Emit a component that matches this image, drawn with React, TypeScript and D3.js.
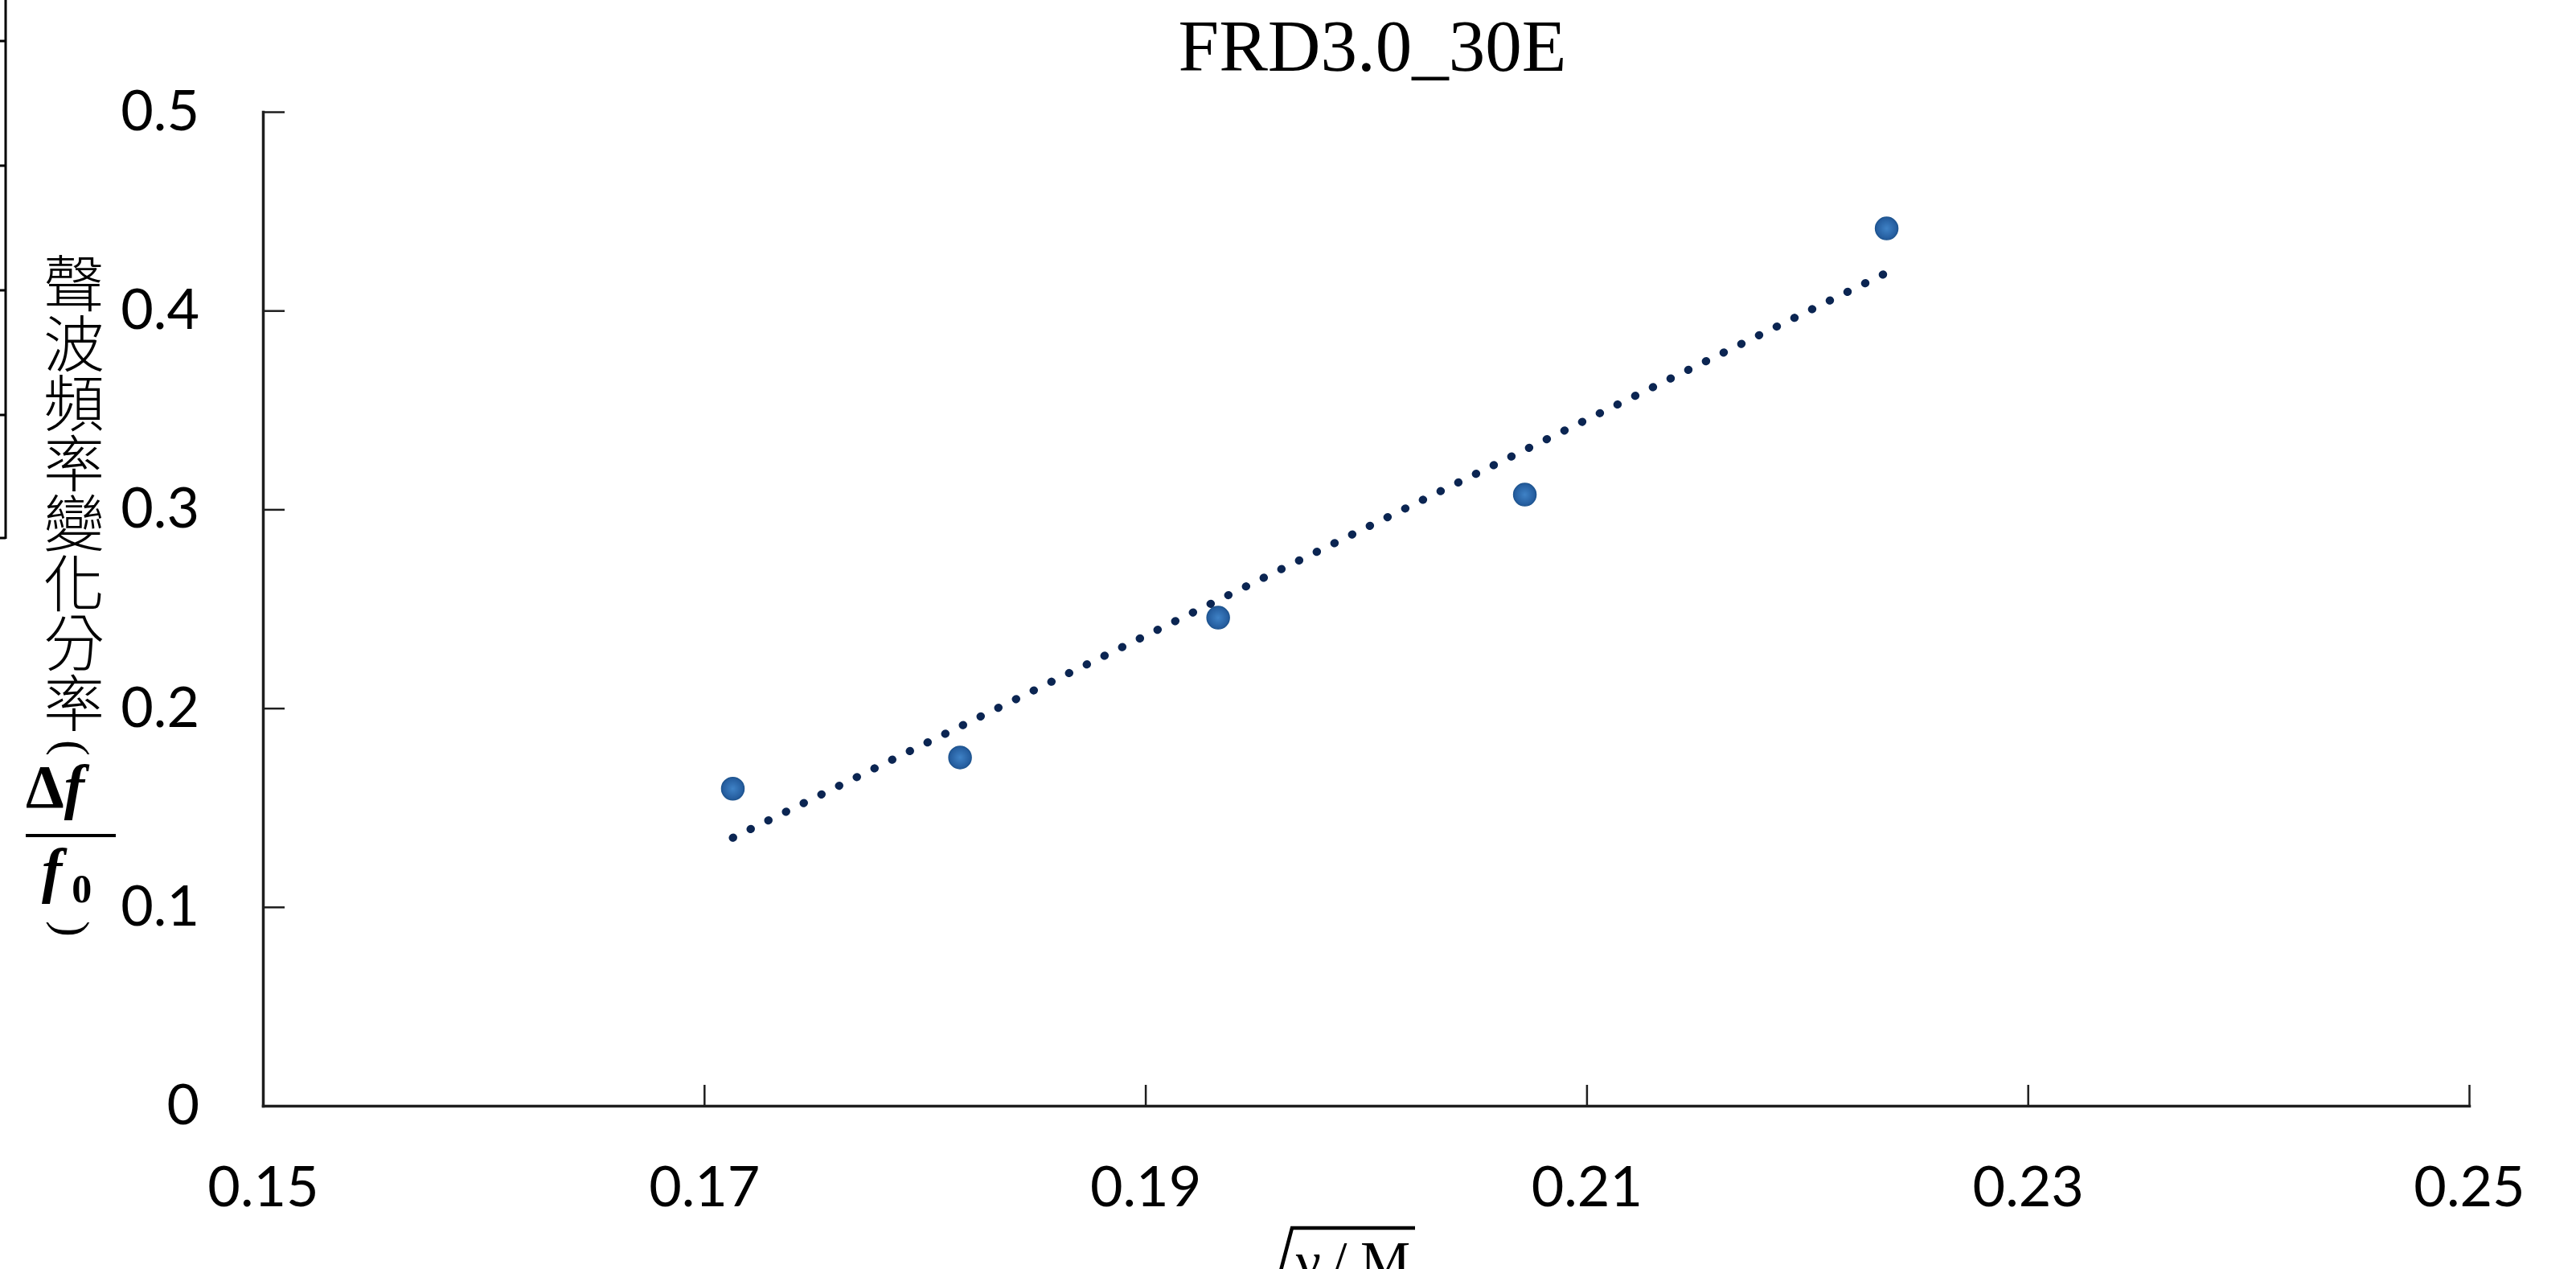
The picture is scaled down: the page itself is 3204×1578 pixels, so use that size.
import React, { useEffect, useRef } from 'react';
import * as d3 from 'd3';

// measured points (sqrt(γ/M), Δf/f0)
const xValues = [0.1713, 0.1816, 0.1933, 0.2072, 0.2236];
const yValues = [0.1595, 0.1752, 0.2455, 0.3074, 0.4413];

const xTicks = [0.15, 0.17, 0.19, 0.21, 0.23, 0.25];
const yTicks = [0, 0.1, 0.2, 0.3, 0.4, 0.5];

const chartTitle = 'FRD3.0_30E';
const yLabelChars = ['聲', '波', '頻', '率', '變', '化', '分', '率'];
const xLabelParts = ['γ', '/', 'M'];

const width = 3204;
const height = 1578;
const margin = { top: 139, right: 133, bottom: 203, left: 327 };

const tickFont = 'Lato, "Open Sans", sans-serif';
const serifFont = '"Liberation Serif", "Times New Roman", serif';
const cjkFont = '"Noto Sans CJK TC", "Noto Sans CJK SC", sans-serif';

export default function App() {
  const svgRef = useRef<SVGSVGElement>(null);

  useEffect(() => {
    const svg = d3.select(svgRef.current);
    svg.selectAll('*').remove();

    const x = d3.scaleLinear().domain([0.15, 0.25]).range([margin.left, width - margin.right]);
    const y = d3.scaleLinear().domain([0, 0.5]).range([height - margin.bottom, margin.top]);

    // marker shading like the Excel default
    const grad = svg.append('defs').append('radialGradient').attr('id', 'dotFill');
    grad.append('stop').attr('offset', '0%').attr('stop-color', '#3f82c6');
    grad.append('stop').attr('offset', '100%').attr('stop-color', '#22599a');

    // leftover table border on the left edge of the original screenshot
    const border = svg.append('g').attr('stroke', '#000').attr('stroke-width', 3);
    border.append('line').attr('x1', 7).attr('x2', 7).attr('y1', 0).attr('y2', 670);
    [51, 206, 361, 516, 669].forEach(r => {
      border.append('line').attr('x1', 0).attr('x2', 7).attr('y1', r).attr('y2', r);
    });

    // title
    svg.append('text')
      .attr('x', 1707)
      .attr('y', 88)
      .attr('text-anchor', 'middle')
      .attr('font-family', serifFont)
      .attr('font-size', 91)
      .attr('fill', '#000')
      .text(chartTitle);

    // axes
    const gx = svg.append('g')
      .attr('transform', `translate(0,${y(0)})`)
      .call(d3.axisBottom(x).tickValues(xTicks).tickSize(-26).tickSizeOuter(0).tickPadding(75)
        .tickFormat(d => `${d}`));
    const gy = svg.append('g')
      .attr('transform', `translate(${x(0.15)},0)`)
      .call(d3.axisLeft(y).tickValues(yTicks).tickSize(-27).tickSizeOuter(0).tickPadding(79)
        .tickFormat(d => `${d}`));

    [gx, gy].forEach(g => {
      g.select('.domain').attr('stroke', '#1e1e1e').attr('stroke-width', 3.5).attr('stroke-linecap', 'square');
      g.selectAll('.tick line').attr('stroke', '#1e1e1e').attr('stroke-width', 2.5);
      g.selectAll('.tick text')
        .attr('font-family', tickFont)
        .attr('font-size', 70)
        .attr('fill', '#000');
    });

    // points
    svg.append('g')
      .selectAll('circle')
      .data(xValues)
      .enter()
      .append('circle')
      .attr('cx', d => x(d))
      .attr('cy', (d, i) => y(yValues[i]))
      .attr('r', 14)
      .attr('fill', 'url(#dotFill)')
      .attr('stroke', '#1f5590')
      .attr('stroke-width', 1.5);

    // linear trendline (least squares)
    const mx = d3.mean(xValues)!;
    const my = d3.mean(yValues)!;
    const slope = d3.sum(xValues.map((v, i) => (v - mx) * (yValues[i] - my))) /
      d3.sum(xValues.map(v => (v - mx) ** 2));
    const intercept = my - slope * mx;
    const [x0, x1] = d3.extent(xValues) as [number, number];
    const line = d3.line<[number, number]>().x(d => x(d[0])).y(d => y(d[1]));
    svg.append('path')
      .attr('d', line([[x0, slope * x0 + intercept], [x1, slope * x1 + intercept]]))
      .attr('fill', 'none')
      .attr('stroke', '#0b2552')
      .attr('stroke-width', 10)
      .attr('stroke-linecap', 'round')
      .attr('stroke-dasharray', '0.5 24');

    // y axis label: vertical characters then (Δf / f0)
    const yl = svg.append('g').attr('fill', '#000');
    yl.selectAll('text.ch')
      .data(yLabelChars)
      .enter()
      .append('text')
      .attr('class', 'ch')
      .attr('x', 92)
      .attr('y', (d, i) => 348 + i * 74.5)
      .attr('text-anchor', 'middle')
      .attr('dominant-baseline', 'central')
      .attr('font-family', cjkFont)
      .attr('font-weight', 300)
      .attr('font-size', 76)
      .text(d => d);

    // parentheses turned sideways, as in vertical writing
    [['(', 930], [')', 1155]].forEach(([ch, cy]) => {
      yl.append('text')
        .attr('x', 90).attr('y', cy)
        .attr('transform', `rotate(90,90,${cy})`)
        .attr('text-anchor', 'middle').attr('dominant-baseline', 'central')
        .attr('font-family', serifFont).attr('font-size', 60)
        .text(ch as string);
    });

    const num = yl.append('text').attr('x', 32).attr('y', 1004)
      .attr('font-family', serifFont).attr('font-size', 76).attr('font-weight', 'bold');
    num.append('tspan').text('Δ');
    num.append('tspan').attr('font-style', 'italic').text('f');

    yl.append('line')
      .attr('x1', 32).attr('x2', 144).attr('y1', 1039).attr('y2', 1039)
      .attr('stroke', '#000').attr('stroke-width', 4);

    const den = yl.append('text').attr('x', 52).attr('y', 1108)
      .attr('font-family', serifFont).attr('font-size', 76).attr('font-weight', 'bold');
    den.append('tspan').attr('font-style', 'italic').text('f');
    den.append('tspan').attr('font-size', 50).attr('dx', 12).attr('dy', 14).text('0');

    // x axis label sqrt(γ/M), cut off at the bottom edge
    svg.append('path')
      .attr('d', 'M1593,1580 L1607,1527 L1760,1527')
      .attr('fill', 'none')
      .attr('stroke', '#000')
      .attr('stroke-width', 4.5);
    const xl = svg.append('text').attr('y', 1592)
      .attr('font-family', serifFont).attr('font-size', 70).attr('fill', '#000');
    const partX = [1612, 1656, 1692];
    xl.selectAll('tspan')
      .data(xLabelParts)
      .enter()
      .append('tspan')
      .attr('x', (d, i) => partX[i])
      .text(d => d);
  }, []);

  return (
    <div>
      <style>{`body{margin:0;overflow:hidden;background:#fff}`}</style>
      <svg ref={svgRef} width={width} height={height} style={{ display: 'block', background: '#fff' }} />
    </div>
  );
}
